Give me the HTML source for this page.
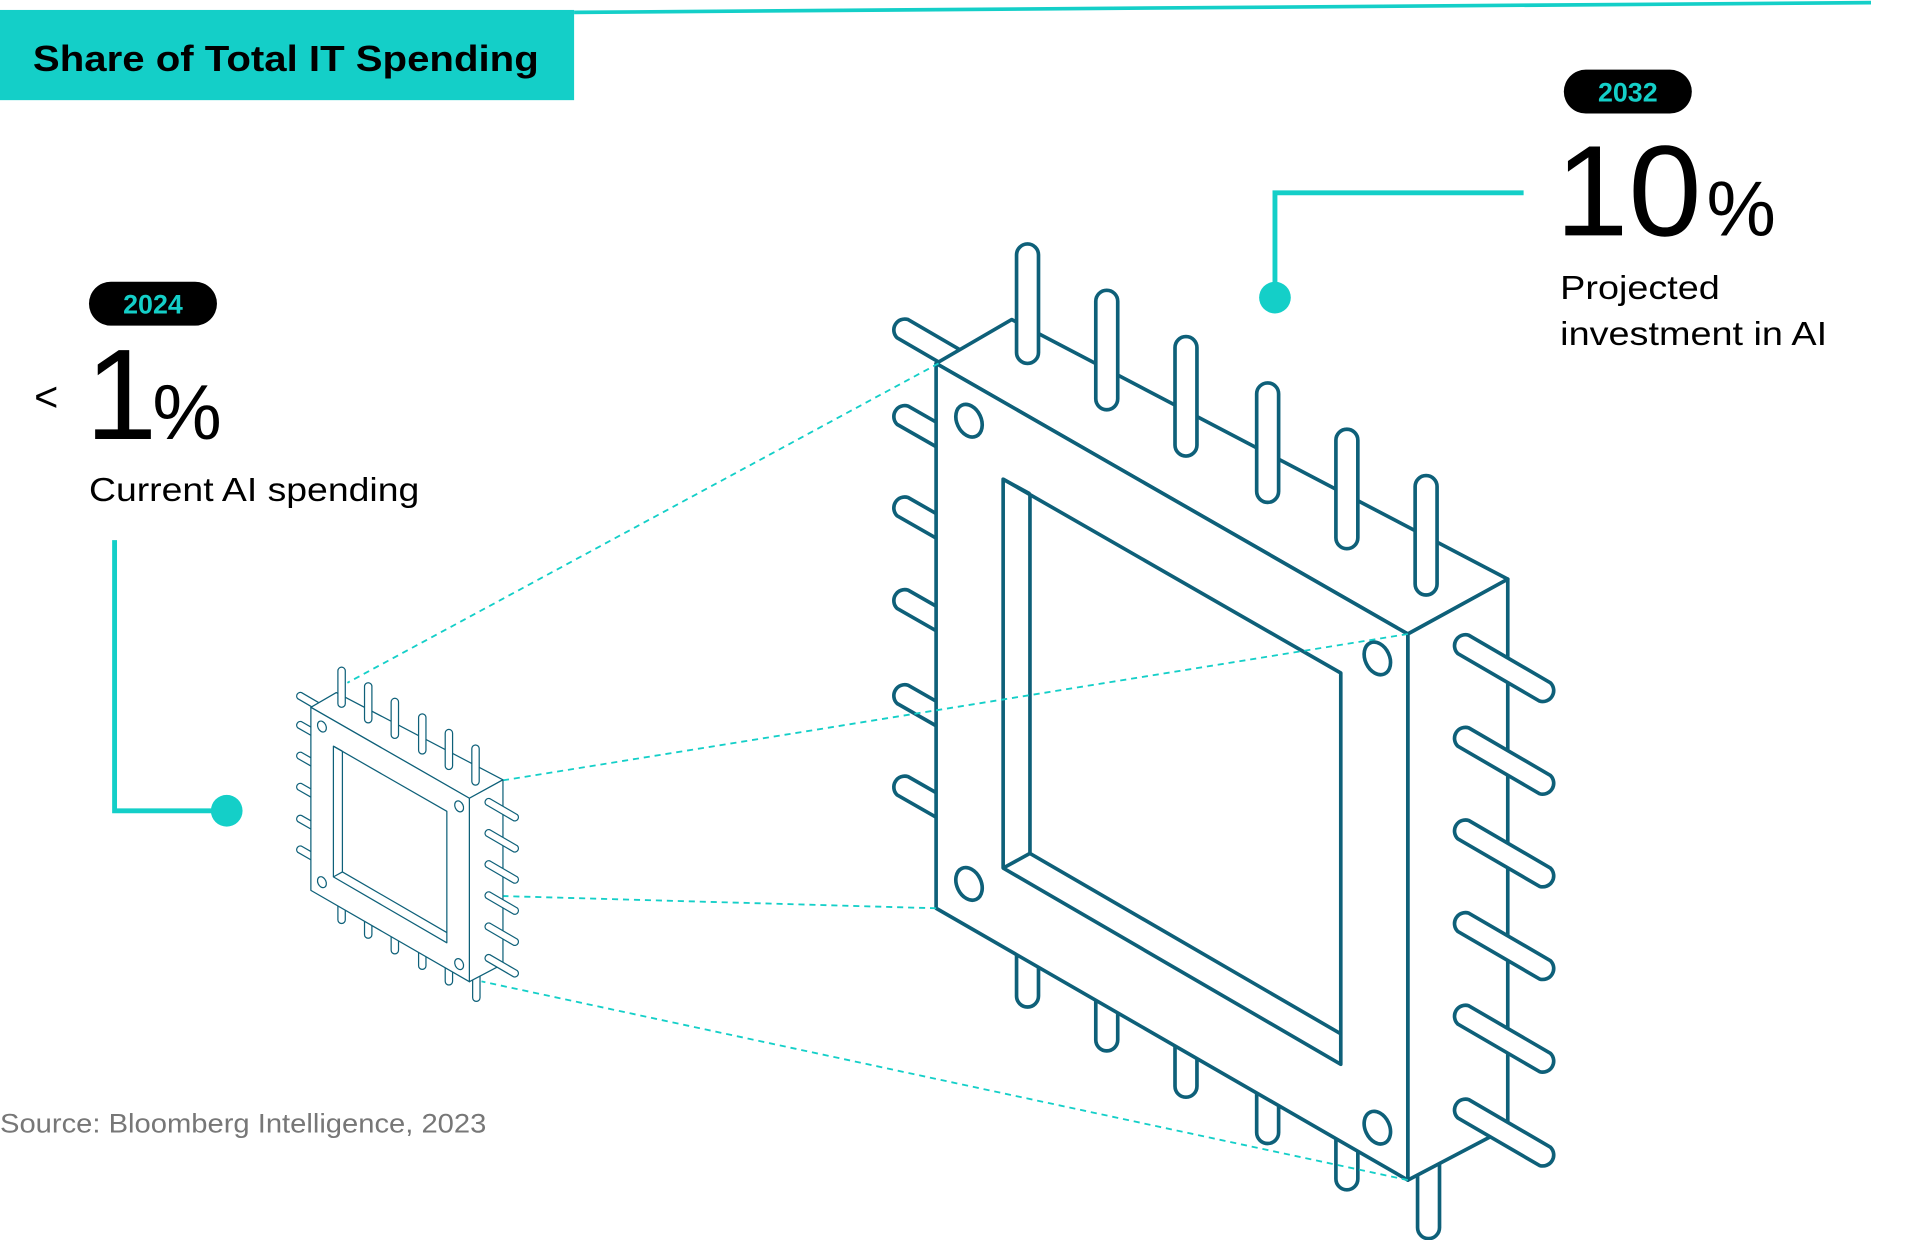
<!DOCTYPE html>
<html><head><meta charset="utf-8"><style>
html,body{margin:0;padding:0;background:#fff;width:1910px;height:1240px;overflow:hidden}
svg{display:block}
text{font-family:"Liberation Sans",sans-serif}
</style></head><body>
<svg width="1910" height="1240" viewBox="0 0 1567 1017" xmlns="http://www.w3.org/2000/svg">
<defs>
<g id="chip" fill="#fff" stroke="#0E6079" stroke-width="3" stroke-linejoin="round">
  <!-- bottom pins -->
  <rect x="834" y="760" width="18" height="66" rx="9"/>
  <rect x="899" y="796" width="18" height="66" rx="9"/>
  <rect x="964" y="834" width="18" height="66" rx="9"/>
  <rect x="1031" y="872" width="18" height="66" rx="9"/>
  <rect x="1096" y="910" width="18" height="66" rx="9"/>
  <rect x="1163" y="930" width="18" height="86" rx="9"/>
  <!-- left pins -->
  <g>
    <path d="M745 262 L800 294 A9 9 0 0 1 791 309 L736 277 A9 9 0 0 1 745 262Z"/>
    <path d="M745 333 L780 353 L771 368 L736 348 A9 9 0 0 1 745 333Z"/>
    <path d="M745 408 L780 428 L771 443 L736 423 A9 9 0 0 1 745 408Z"/>
    <path d="M745 484 L780 504 L771 519 L736 499 A9 9 0 0 1 745 484Z"/>
    <path d="M745 562 L780 582 L771 597 L736 577 A9 9 0 0 1 745 562Z"/>
    <path d="M745 637 L780 657 L771 672 L736 652 A9 9 0 0 1 745 637Z"/>
  </g>
  <!-- body -->
  <path d="M768 298 L830 262 L1237 475 L1155 520 Z"/>
  <path d="M1155 520 L1237 475 L1237 925 L1155 968 Z"/>
  <path d="M768 298 L1155 520 L1155 968 L768 745 Z"/>
  <!-- top pins (over top face) -->
  <rect x="834" y="200" width="18" height="98" rx="9"/>
  <rect x="899" y="238" width="18" height="98" rx="9"/>
  <rect x="964" y="276" width="18" height="98" rx="9"/>
  <rect x="1031" y="314" width="18" height="98" rx="9"/>
  <rect x="1096" y="352" width="18" height="98" rx="9"/>
  <rect x="1161" y="390" width="18" height="98" rx="9"/>
  <!-- window -->
  <path d="M823 393 L1100 552 L1100 873 L823 712 Z"/>
  <path d="M845 405 L845 700 L1100 848" fill="none"/>
  <path d="M823 393 L845 405 M823 712 L845 700" fill="none"/>
  <!-- holes -->
  <ellipse cx="795" cy="345" rx="10" ry="14" transform="rotate(-25 795 345)"/>
  <ellipse cx="1130" cy="540" rx="10" ry="14" transform="rotate(-25 1130 540)"/>
  <ellipse cx="795" cy="725" rx="10" ry="14" transform="rotate(-25 795 725)"/>
  <ellipse cx="1130" cy="925" rx="10" ry="14" transform="rotate(-25 1130 925)"/>
  <!-- right pins -->
  <path d="M1205 521 L1272 560 A9 9 0 0 1 1263 575 L1196 536 A9 9 0 0 1 1205 521Z"/>
  <path d="M1205 597 L1272 636 A9 9 0 0 1 1263 651 L1196 612 A9 9 0 0 1 1205 597Z"/>
  <path d="M1205 673 L1272 712 A9 9 0 0 1 1263 727 L1196 688 A9 9 0 0 1 1205 673Z"/>
  <path d="M1205 749 L1272 788 A9 9 0 0 1 1263 803 L1196 764 A9 9 0 0 1 1205 749Z"/>
  <path d="M1205 825 L1272 864 A9 9 0 0 1 1263 879 L1196 840 A9 9 0 0 1 1205 825Z"/>
  <path d="M1205 902 L1272 941 A9 9 0 0 1 1263 956 L1196 917 A9 9 0 0 1 1205 902Z"/>
</g>
</defs>

<rect x="0" y="8" width="471" height="74" fill="#14CFC8"/>
<line x1="471" y1="10" x2="1535" y2="2" stroke="#14CFC8" stroke-width="3"/>
<text x="27" y="58" font-size="30" font-weight="bold" fill="#000" textLength="415" lengthAdjust="spacingAndGlyphs">Share of Total IT Spending</text>

<rect x="1283" y="57" width="105" height="36" rx="18" fill="#000"/>
<text x="1335.5" y="83" font-size="22" font-weight="bold" fill="#14CFC8" text-anchor="middle">2032</text>
<text x="1276" y="193" font-size="106" fill="#000" textLength="120" lengthAdjust="spacingAndGlyphs">10</text>
<text x="1400" y="193" font-size="64" fill="#000">%</text>
<text x="1280" y="245" font-size="27" fill="#000" textLength="131" lengthAdjust="spacingAndGlyphs">Projected</text>
<text x="1280" y="283" font-size="27" fill="#000" textLength="219" lengthAdjust="spacingAndGlyphs">investment in AI</text>
<path d="M1250 158 H1046 V244" fill="none" stroke="#14CFC8" stroke-width="4"/>
<circle cx="1046" cy="244" r="13" fill="#14CFC8"/>

<rect x="73" y="231" width="105" height="36" rx="18" fill="#000"/>
<text x="125.5" y="257" font-size="22" font-weight="bold" fill="#14CFC8" text-anchor="middle">2024</text>
<text x="28" y="337" font-size="34" fill="#000">&lt;</text>
<text x="70" y="360" font-size="106" fill="#000">1</text>
<text x="125" y="360" font-size="64" fill="#000">%</text>
<text x="73" y="411" font-size="27" fill="#000" textLength="271" lengthAdjust="spacingAndGlyphs">Current AI spending</text>
<path d="M94 443 V665 H186" fill="none" stroke="#14CFC8" stroke-width="4"/>
<circle cx="186" cy="665" r="13" fill="#14CFC8"/>

<text x="0" y="929" font-size="22" fill="#777" textLength="399" lengthAdjust="spacingAndGlyphs">Source: Bloomberg Intelligence, 2023</text>

<use href="#chip"/>
<g transform="translate(-3 480) scale(0.336)"><use href="#chip"/></g>

<g stroke="#14CFC8" stroke-width="1.5" stroke-dasharray="5 4" fill="none">
  <line x1="770" y1="298" x2="285" y2="560"/>
  <line x1="1155" y1="520" x2="413" y2="640"/>
  <line x1="768" y1="745" x2="413" y2="735"/>
  <line x1="1155" y1="968" x2="395" y2="805"/>
</g>
</svg>
</body></html>
